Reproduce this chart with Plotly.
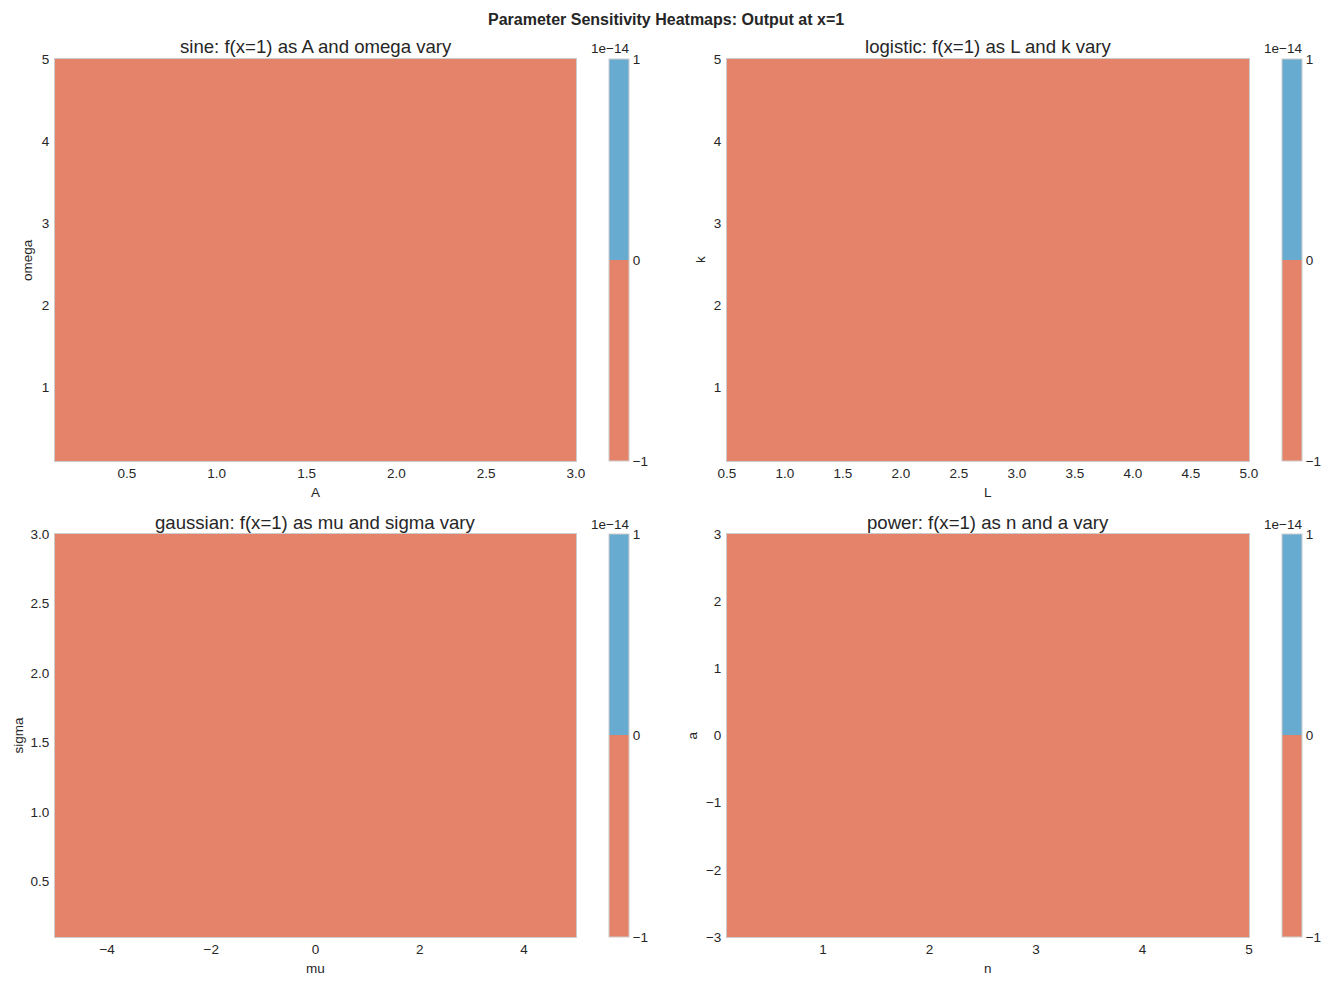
import plotly.graph_objects as go

# ---------------- data ----------------
# parameter ranges (edges of the evaluated grid)
sine_A = [0.1, 3.0]
sine_omega = [0.1, 5.0]
sine_out = [[0.0]]

logistic_L = [0.5, 5.0]
logistic_k = [0.1, 5.0]
logistic_out = [[0.0]]

gauss_mu = [-5.0, 5.0]
gauss_sigma = [0.1, 3.0]
gauss_out = [[0.0]]

power_n = [0.1, 5.0]
power_a = [-3.0, 3.0]
power_out = [[0.0]]

titles = ["sine: f(x=1) as A and omega vary",
          "logistic: f(x=1) as L and k vary",
          "gaussian: f(x=1) as mu and sigma vary",
          "power: f(x=1) as n and a vary"]
xlabels = ["A", "L", "mu", "n"]
ylabels = ["omega", "k", "sigma", "a"]

sine_xticks = [0.5, 1.0, 1.5, 2.0, 2.5, 3.0]
sine_xtext = ["0.5", "1.0", "1.5", "2.0", "2.5", "3.0"]
sine_yticks = [1, 2, 3, 4, 5]
sine_ytext = ["1", "2", "3", "4", "5"]
logi_xticks = [0.5, 1.0, 1.5, 2.0, 2.5, 3.0, 3.5, 4.0, 4.5, 5.0]
logi_xtext = ["0.5", "1.0", "1.5", "2.0", "2.5", "3.0", "3.5", "4.0", "4.5", "5.0"]
logi_yticks = [1, 2, 3, 4, 5]
logi_ytext = ["1", "2", "3", "4", "5"]
gaus_xticks = [-4, -2, 0, 2, 4]
gaus_xtext = ["\u22124", "\u22122", "0", "2", "4"]
gaus_yticks = [0.5, 1.0, 1.5, 2.0, 2.5, 3.0]
gaus_ytext = ["0.5", "1.0", "1.5", "2.0", "2.5", "3.0"]
pow_xticks = [1, 2, 3, 4, 5]
pow_xtext = ["1", "2", "3", "4", "5"]
pow_yticks = [-3, -2, -1, 0, 1, 2, 3]
pow_ytext = ["\u22123", "\u22122", "\u22121", "0", "1", "2", "3"]

cbar_vals = [-1e-14, 0.0, 1e-14]
cbar_text = ["\u22121", "0", "1"]
cbar_offset = "1e\u221214"

# ---------------- styling ----------------
W, H = 1332, 985
RED = "#E4836A"
BLUE = "#67ABD0"
EDGE = "#cccccc"
FONT = "Liberation Sans, Arial, sans-serif"
TXT = "#262626"
TICK = 13.5
TITLE = 18.6

colorscale = [[0.0, RED], [0.5, RED], [0.500001, BLUE], [1.0, BLUE]]

def fx(p):
    return p / W

def fy(p):
    return 1 - p / H

# pixel boxes: (x0, x1, y0, y1, cbx0, ylabel_x)
boxes = [
    (55, 576, 59, 461, 609, 27),
    (727, 1249, 59, 461, 1282, 700),
    (55, 576, 534, 937, 609, 18),
    (727, 1249, 534, 937, 1282, 692),
]

panels = [
    (sine_A, sine_omega, sine_out, sine_xticks, sine_xtext, sine_yticks, sine_ytext),
    (logistic_L, logistic_k, logistic_out, logi_xticks, logi_xtext, logi_yticks, logi_ytext),
    (gauss_mu, gauss_sigma, gauss_out, gaus_xticks, gaus_xtext, gaus_yticks, gaus_ytext),
    (power_n, power_a, power_out, pow_xticks, pow_xtext, pow_yticks, pow_ytext),
]

fig = go.Figure()
annotations = []
layout_axes = {}

for i, (panel, box) in enumerate(zip(panels, boxes)):
    xs, ys, z, xt, xtt, yt, ytt = panel
    x0, x1, y0, y1, cbx, ylx = box
    n = i + 1
    xa = "x" if n == 1 else f"x{n}"
    ya = "y" if n == 1 else f"y{n}"
    fig.add_trace(go.Heatmap(
        x=xs, y=ys, z=z, zmin=cbar_vals[0], zmax=cbar_vals[-1],
        colorscale=colorscale, xaxis=xa, yaxis=ya, hoverinfo="skip",
        colorbar=dict(
            x=fx(cbx), xanchor="left", xref="paper",
            y=fy(y0), yanchor="top", yref="paper",
            len=(y1 - y0), lenmode="pixels",
            thickness=20, thicknessmode="pixels",
            xpad=0, ypad=0,
            outlinewidth=1, outlinecolor=EDGE,
            tickvals=cbar_vals, ticktext=cbar_text, ticks="",
            tickfont=dict(size=TICK, color=TXT, family=FONT),
        ),
    ))
    xkey = "xaxis" if n == 1 else f"xaxis{n}"
    ykey = "yaxis" if n == 1 else f"yaxis{n}"
    layout_axes[xkey] = dict(
        domain=[fx(x0), fx(x1)], anchor=ya, range=[xs[0], xs[-1]],
        tickvals=xt, ticktext=xtt, ticks="", showgrid=False, zeroline=False,
        showline=True, mirror=True, linecolor=EDGE, linewidth=1,
        automargin=False, fixedrange=True,
        tickfont=dict(size=TICK, color=TXT, family=FONT),
    )
    layout_axes[ykey] = dict(
        domain=[fy(y1), fy(y0)], anchor=xa, range=[ys[0], ys[-1]],
        tickvals=yt, ticktext=ytt, ticks="", showgrid=False, zeroline=False,
        showline=True, mirror=True, linecolor=EDGE, linewidth=1,
        automargin=False, fixedrange=True, ticklabelstandoff=2,
        tickfont=dict(size=TICK, color=TXT, family=FONT),
    )
    # subplot title
    annotations.append(dict(
        text=titles[i], x=fx((x0 + x1) / 2), y=fy(y0 - 12), xref="paper", yref="paper",
        xanchor="center", yanchor="middle", showarrow=False,
        font=dict(size=TITLE, color=TXT, family=FONT),
    ))
    # x label
    annotations.append(dict(
        text=xlabels[i], x=fx((x0 + x1) / 2), y=fy(y1 + 31), xref="paper", yref="paper",
        xanchor="center", yanchor="middle", showarrow=False,
        font=dict(size=TICK, color=TXT, family=FONT),
    ))
    # y label
    annotations.append(dict(
        text=ylabels[i], x=fx(ylx), y=fy((y0 + y1) / 2), xref="paper", yref="paper",
        xanchor="center", yanchor="middle", showarrow=False, textangle=-90,
        font=dict(size=TICK, color=TXT, family=FONT),
    ))
    # colorbar offset text
    annotations.append(dict(
        text=cbar_offset, x=fx(cbx + 22), y=fy(y0 - 10), xref="paper", yref="paper",
        xanchor="right", yanchor="middle", showarrow=False,
        font=dict(size=TICK, color=TXT, family=FONT),
    ))

annotations.append(dict(
    text="<b>Parameter Sensitivity Heatmaps: Output at x=1</b>",
    x=0.5, y=fy(9), xref="paper", yref="paper", xanchor="center", yanchor="top",
    showarrow=False, font=dict(size=16, color=TXT, family=FONT),
))

fig.update_layout(
    template="none",
    width=W, height=H, margin=dict(l=0, r=0, t=0, b=0, autoexpand=False),
    paper_bgcolor="white", plot_bgcolor="white",
    annotations=annotations, showlegend=False,
    font=dict(family=FONT, color=TXT),
    **layout_axes,
)

fig.write_html("out.html", config={"displayModeBar": False},
               post_script="document.body.style.margin='0';")
